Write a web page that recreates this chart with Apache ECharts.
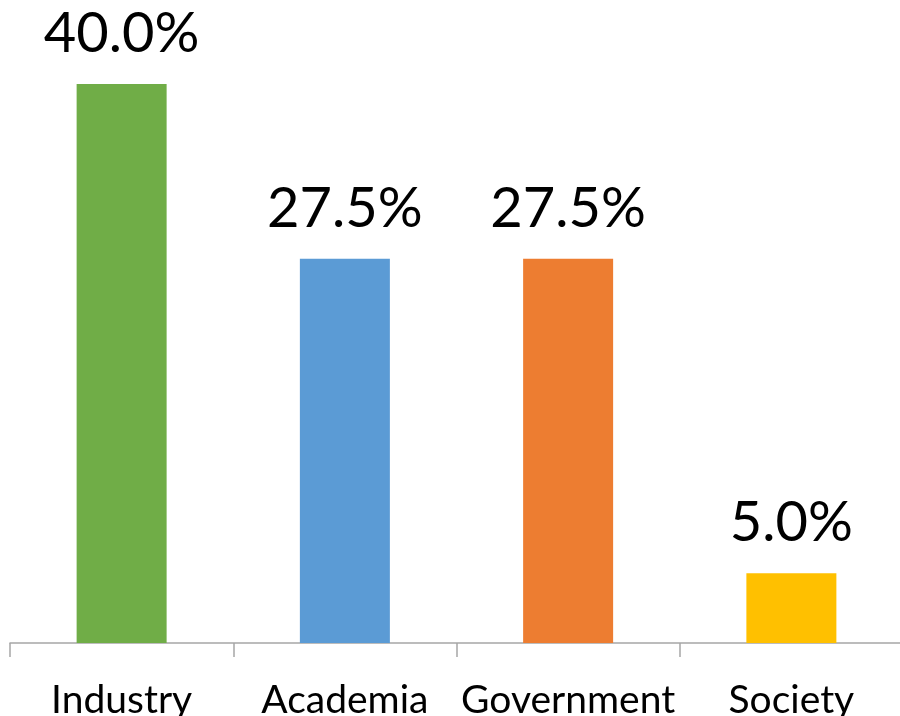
<!DOCTYPE html>
<html lang="en">
<head>
<meta charset="UTF-8">
<title>share chart</title>
<script src="https://cdn.jsdelivr.net/npm/echarts@6/dist/echarts.min.js"></script>
<style>
  html, body { margin: 0; padding: 0; background: #fff; overflow: hidden; }
  #main { width: 900px; height: 716px; }
</style>
</head>
<body>
<div id="main"></div>
<script type="text/javascript">
// data
var categories = ['Industry', 'Academia', 'Government', 'Society'];
var shares = [40.0, 27.5, 27.5, 5.0];
var barColors = ['#70AD47', '#5B9BD5', '#ED7D31', '#FFC000'];

var myChart = echarts.init(document.getElementById('main'));

var option = {
    animation: false,
    grid: { left: 10, right: -3, top: 84, bottom: 73, outerBoundsMode: 'none', containLabel: false },
    xAxis: {
        type: 'category',
        data: categories,
        axisLine: { lineStyle: { color: '#A6A6A6', width: 1.5 } },
        axisTick: { show: true, length: 14, lineStyle: { color: '#A6A6A6', width: 1.5 } },
        axisLabel: { color: '#000', fontFamily: 'Lato', fontSize: 39, margin: 38, interval: 0 }
    },
    yAxis: {
        type: 'value',
        min: 0,
        max: 40,
        show: false,
        splitLine: { show: false }
    },
    series: [{
        type: 'bar',
        barWidth: 90,
        data: shares.map(function (v, i) {
            return { value: v, itemStyle: { color: barColors[i] } };
        }),
        label: {
            show: true,
            position: 'top',
            distance: 22,
            color: '#000',
            fontFamily: 'Lato',
            fontSize: 56,
            formatter: function (p) { return p.value.toFixed(1) + '%'; }
        }
    }]
};
myChart.setOption(option);
</script>
</body>
</html>
